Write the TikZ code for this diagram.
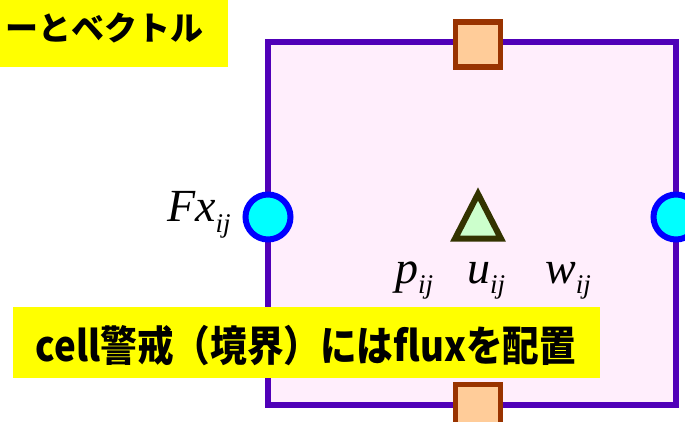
\documentclass[tikz,border=0pt]{standalone}
\usepackage{fontspec}
\usepackage{graphicx}
\setmainfont{Liberation Serif}
\newfontfamily\cjk{Noto Sans CJK JP}
\definecolor{cellfill}{HTML}{FFEEFC}
\definecolor{cellline}{HTML}{5000B8}
\definecolor{sqline}{HTML}{993300}
\definecolor{sqfill}{HTML}{FFCC99}
\definecolor{trifill}{HTML}{CCFFCC}
\definecolor{triline}{HTML}{333300}
\definecolor{circline}{HTML}{0000FF}
\definecolor{circfill}{HTML}{00FFFF}
\definecolor{hilite}{HTML}{FFFF00}
\newcommand\vlab[2]{\textit{#1}\raisebox{-10pt}{\fontsize{27pt}{27pt}\selectfont\textit{#2}}}
\tikzset{
  fluxpt/.style={circle, draw=circline, fill=circfill, line width=6pt, minimum size=45pt, inner sep=0pt},
  facept/.style={rectangle, draw=sqline, fill=sqfill, line width=5.7pt, minimum size=45pt, inner sep=0pt},
  varlab/.style={anchor=base west, inner sep=0pt, font=\fontsize{46pt}{46pt}\selectfont},
  notebox/.style={fill=hilite, draw=none}
}
\begin{document}
\begin{tikzpicture}[x=1pt,y=-1pt]
\useasboundingbox (0,0) rectangle (685,422);
% top-left highlighted title
\fill[hilite] (0,0) rectangle (228,67);
\node[anchor=base east, inner sep=0pt] (title) at (204,41)
  {\cjk\bfseries\fontsize{33pt}{33pt}\selectfont ーとベクトル};
% cell
\node[rectangle, draw=cellline, fill=cellfill, line width=6pt,
      minimum width=408pt, minimum height=362.5pt, inner sep=0pt] (cell) at (472,223.75) {};
% faces
\node[facept] (top) at (478,44.5) {};
\node[fluxpt] (left) at (268,217) {};
\node[fluxpt] (right) at (676,217) {};
% center triangle
\coordinate (ta) at (478,194);
\coordinate (tb) at (455,238.7);
\coordinate (tc) at (501,238.7);
\filldraw[fill=trifill, draw=triline, line width=6pt, line join=miter] (ta) -- (tb) -- (tc) -- cycle;
% labels
\node[varlab] (fx) at (167,222) {\vlab{Fx}{ij}};
\node[varlab] (p) at (395,283) {\vlab{p}{ij}};
\node[varlab] (u) at (467,283) {\vlab{u}{ij}};
\node[varlab] (w) at (545,283) {\vlab{w}{ij}};
% bottom note
\fill[hilite] (13,307) rectangle (600,378);
\node[anchor=base, inner sep=0pt] (note) at (306,361)
  {\resizebox{540pt}{\height}{\cjk\bfseries\fontsize{42pt}{42pt}\selectfont cell警戒（境界）にはfluxを配置}};
\node[facept] (bottom) at (478,407) {};
\end{tikzpicture}
\end{document}
